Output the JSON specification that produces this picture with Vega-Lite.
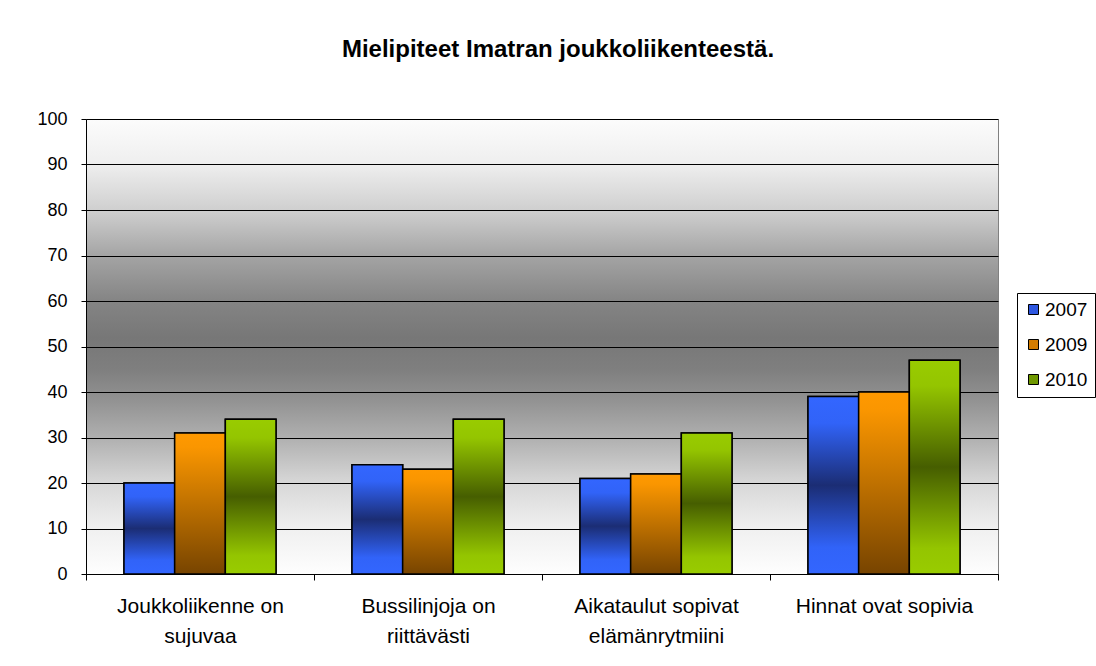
{
  "$schema": "https://vega.github.io/schema/vega-lite/v6.json",
  "width": 912,
  "height": 455,
  "autosize": {"type": "none"},
  "padding": {"left": 86, "top": 119, "right": 98, "bottom": 92},
  "background": "white",
  "title": {
    "text": "Mielipiteet Imatran joukkoliikenteestä.",
    "font": "Liberation Sans",
    "fontSize": 24,
    "fontWeight": "bold",
    "color": "black",
    "anchor": "middle",
    "dx": 16,
    "offset": 48
  },
  "data": {
    "values": [
      {"kysymys": "Joukkoliikenne on sujuvaa", "vuosi": "2007", "arvo": 20},
      {"kysymys": "Joukkoliikenne on sujuvaa", "vuosi": "2009", "arvo": 31},
      {"kysymys": "Joukkoliikenne on sujuvaa", "vuosi": "2010", "arvo": 34},
      {"kysymys": "Bussilinjoja on riittävästi", "vuosi": "2007", "arvo": 24},
      {"kysymys": "Bussilinjoja on riittävästi", "vuosi": "2009", "arvo": 23},
      {"kysymys": "Bussilinjoja on riittävästi", "vuosi": "2010", "arvo": 34},
      {"kysymys": "Aikataulut sopivat elämänrytmiini", "vuosi": "2007", "arvo": 21},
      {"kysymys": "Aikataulut sopivat elämänrytmiini", "vuosi": "2009", "arvo": 22},
      {"kysymys": "Aikataulut sopivat elämänrytmiini", "vuosi": "2010", "arvo": 31},
      {"kysymys": "Hinnat ovat sopivia", "vuosi": "2007", "arvo": 39},
      {"kysymys": "Hinnat ovat sopivia", "vuosi": "2009", "arvo": 40},
      {"kysymys": "Hinnat ovat sopivia", "vuosi": "2010", "arvo": 47}
    ]
  },
  "encoding": {
    "x": {
      "field": "kysymys",
      "type": "nominal",
      "sort": null,
      "scale": {"paddingInner": 0, "paddingOuter": 0},
      "axis": {
        "title": null,
        "labelAngle": 0,
        "tickBand": "extent",
        "labelFont": "Liberation Sans",
        "labelFontSize": 21,
        "labelColor": "black",
        "labelLineHeight": 30,
        "labelPadding": 15,
        "tickSize": 6,
        "tickColor": "black",
        "domainColor": "black",
        "labelExpr": "datum.label == 'Joukkoliikenne on sujuvaa' ? ['Joukkoliikenne on', 'sujuvaa'] : datum.label == 'Bussilinjoja on riittävästi' ? ['Bussilinjoja on', 'riittävästi'] : datum.label == 'Aikataulut sopivat elämänrytmiini' ? ['Aikataulut sopivat', 'elämänrytmiini'] : datum.label"
      }
    },
    "xOffset": {
      "field": "vuosi",
      "type": "nominal",
      "scale": {"paddingInner": 0, "paddingOuter": 0.75}
    },
    "y": {
      "field": "arvo",
      "type": "quantitative",
      "scale": {"domain": [0, 100], "nice": false},
      "axis": {
        "title": null,
        "values": [0, 10, 20, 30, 40, 50, 60, 70, 80, 90, 100],
        "labelFont": "Liberation Sans",
        "labelFontSize": 18,
        "labelColor": "black",
        "labelPadding": 14,
        "tickSize": 5,
        "tickColor": "black",
        "domainColor": "black",
        "grid": true,
        "gridColor": "black",
        "gridOpacity": 1,
        "gridWidth": 1
      }
    }
  },
  "layer": [
    {
      "mark": {"type": "bar", "stroke": "black", "strokeWidth": 1.5},
      "encoding": {
        "color": {
          "field": "vuosi",
          "type": "nominal",
          "scale": {"domain": ["2007", "2009", "2010"], "range": ["#2d56e0", "#d27c00", "#6f9800"]},
          "legend": {
            "title": null,
            "orient": "none",
            "legendX": 931,
            "legendY": 174,
            "symbolType": "square",
            "symbolSize": 100,
            "symbolStrokeColor": "black",
            "symbolStrokeWidth": 1,
            "labelFont": "Liberation Sans",
            "labelFontSize": 19,
            "labelColor": "black",
            "labelOffset": 2,
            "rowPadding": 15,
            "padding": 7,
            "strokeColor": "black",
            "fillColor": "white"
          }
        }
      }
    },
    {
      "mark": {"type": "bar", "stroke": "black", "strokeWidth": 1.5},
      "encoding": {
        "fill": {
          "condition": [
            {
              "test": "datum.vuosi === '2007'",
              "value": {
                "gradient": "linear", "x1": 0, "y1": 0, "x2": 0, "y2": 1,
                "stops": [
                  {"offset": 0, "color": "#3366ff"},
                  {"offset": 0.15, "color": "#3163f8"},
                  {"offset": 0.5, "color": "#1b2d74"},
                  {"offset": 0.85, "color": "#3163f8"},
                  {"offset": 1, "color": "#3366ff"}
                ]
              }
            },
            {
              "test": "datum.vuosi === '2009'",
              "value": {
                "gradient": "linear", "x1": 0, "y1": 0, "x2": 0, "y2": 1,
                "stops": [
                  {"offset": 0, "color": "#ff9900"},
                  {"offset": 0.1, "color": "#fa9600"},
                  {"offset": 1, "color": "#774400"}
                ]
              }
            }
          ],
          "value": {
            "gradient": "linear", "x1": 0, "y1": 0, "x2": 0, "y2": 1,
            "stops": [
              {"offset": 0, "color": "#99cc00"},
              {"offset": 0.12, "color": "#94c500"},
              {"offset": 0.5, "color": "#465e00"},
              {"offset": 0.88, "color": "#94c500"},
              {"offset": 1, "color": "#99cc00"}
            ]
          }
        }
      }
    }
  ],
  "config": {
    "view": {
      "stroke": "#808080",
      "strokeWidth": 1,
      "fill": {
        "gradient": "linear", "x1": 0, "y1": 0, "x2": 0, "y2": 1,
        "stops": [
          {"offset": 0, "color": "#fcfcfc"},
          {"offset": 0.1, "color": "#eeeeee"},
          {"offset": 0.2, "color": "#cfcfcf"},
          {"offset": 0.3, "color": "#a4a4a4"},
          {"offset": 0.4, "color": "#848484"},
          {"offset": 0.48, "color": "#777777"},
          {"offset": 0.55, "color": "#7f7f7f"},
          {"offset": 0.62, "color": "#939393"},
          {"offset": 0.7, "color": "#b0b0b0"},
          {"offset": 0.8, "color": "#d8d8d8"},
          {"offset": 0.9, "color": "#f0f0f0"},
          {"offset": 1, "color": "#fefefe"}
        ]
      }
    }
  }
}
